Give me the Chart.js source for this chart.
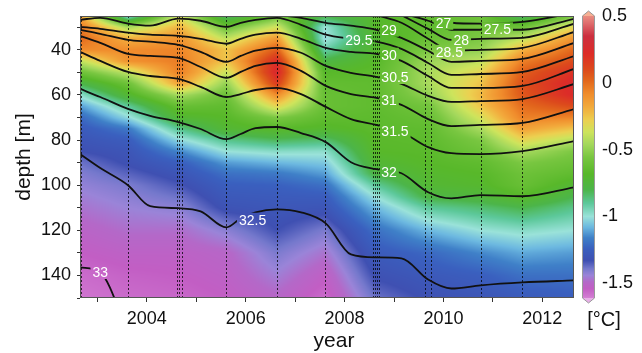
<!DOCTYPE html>
<html>
<head>
<meta charset="utf-8">
<script src="https://cdn.jsdelivr.net/npm/chart.js@4.4.1/dist/chart.umd.min.js"></script>
<style>
  html, body { margin: 0; padding: 0; background: #fff; }
</style>
</head>
<body>
<canvas id="chart" width="642" height="353"></canvas>
<script>
const FONT = '"Liberation Sans", Arial, Helvetica, sans-serif';

// temperature anomaly grid [°C]: one column per cast year, values by depth
const gridYears = [2002.65, 2003.62, 2004.67, 2005.61, 2006.63, 2007.60, 2008.63, 2009.69, 2010.75, 2011.59, 2012.65];
const gridDepths = [25, 30, 35, 40, 45, 50, 55, 60, 65, 70, 75, 80, 85, 90, 95, 100, 105, 110, 120, 130, 140, 150];
const t2002 = [-0.15, -0.02, 0.02, -0.08, -0.4, -0.6, -0.8, -0.98, -1.12, -1.22, -1.27, -1.3, -1.33, -1.38, -1.41, -1.43, -1.45, -1.47, -1.51, -1.54, -1.57, -1.59];
const t2003 = [-1.0, -0.45, -0.2, -0.08, -0.1, -0.4, -0.6, -0.72, -0.9, -1.02, -1.18, -1.26, -1.3, -1.32, -1.36, -1.4, -1.42, -1.44, -1.48, -1.52, -1.55, -1.57];
const t2004 = [-0.35, -0.2, -0.1, -0.06, -0.04, -0.04, -0.15, -0.45, -0.62, -0.72, -0.88, -1.02, -1.15, -1.25, -1.3, -1.34, -1.38, -1.42, -1.48, -1.52, -1.54, -1.56];
const t2005 = [-0.85, -0.6, -0.4, -0.25, -0.25, -0.38, -0.5, -0.6, -0.65, -0.68, -0.72, -0.88, -1.0, -1.12, -1.2, -1.25, -1.28, -1.31, -1.42, -1.5, -1.52, -1.54];
const t2006 = [-0.6, -0.35, -0.12, 0.05, 0.22, 0.26, 0.15, -0.08, -0.3, -0.55, -0.68, -0.82, -0.97, -1.08, -1.18, -1.24, -1.27, -1.29, -1.33, -1.4, -1.45, -1.5];
const t2007 = [-0.8, -1.0, -1.02, -0.92, -0.78, -0.68, -0.64, -0.62, -0.62, -0.65, -0.7, -0.85, -0.98, -1.05, -1.12, -1.2, -1.26, -1.3, -1.4, -1.47, -1.53, -1.57];
const t2008 = [-0.7, -0.68, -0.72, -0.7, -0.68, -0.66, -0.65, -0.65, -0.65, -0.66, -0.66, -0.67, -0.68, -0.72, -0.78, -0.9, -1.0, -1.08, -1.2, -1.27, -1.32, -1.38];
const t2009 = [-0.65, -0.65, -0.62, -0.55, -0.48, -0.45, -0.45, -0.5, -0.58, -0.62, -0.65, -0.66, -0.67, -0.68, -0.7, -0.72, -0.78, -0.9, -1.08, -1.22, -1.28, -1.32];
const t2010 = [-0.6, -0.58, -0.55, -0.5, -0.4, -0.3, -0.25, -0.22, -0.25, -0.35, -0.45, -0.55, -0.6, -0.65, -0.68, -0.7, -0.75, -0.85, -1.0, -1.15, -1.25, -1.3];
const t2011 = [-0.85, -0.6, -0.4, -0.2, -0.05, 0.04, 0.08, 0.06, 0.0, -0.05, -0.15, -0.3, -0.45, -0.55, -0.6, -0.62, -0.68, -0.8, -0.97, -1.1, -1.2, -1.27];
const t2012 = [-0.55, -0.3, -0.1, 0.02, 0.1, 0.2, 0.26, 0.24, 0.1, -0.06, -0.25, -0.42, -0.55, -0.6, -0.65, -0.72, -0.8, -0.88, -1.0, -1.12, -1.2, -1.25];
const tempCols = [t2002, t2003, t2004, t2005, t2006, t2007, t2008, t2009, t2010, t2011, t2012];

// cast dates (dashed verticals)
const castYears = [2002.68, 2003.62, 2004.62, 2004.66, 2004.72, 2005.61, 2006.63, 2007.60,
  2008.58, 2008.62, 2008.66, 2008.70, 2009.63, 2009.75, 2010.75, 2011.59, 2012.62];

// salinity contours: depth [m] of each isohaline at lineYears
const lineYears = [2002.65, 2003.06, 2003.62, 2004.07, 2004.64, 2005.09, 2005.61, 2005.9, 2006.2, 2006.63,
  2007.12, 2007.62, 2008.13, 2008.64, 2009.15, 2009.69, 2010.16, 2010.75, 2011.6, 2012.65];
const s33  = [136.4, 138.7, 165, null, null, null, null, null, null, null, null, null, null, null, null, null, null, null, null, null];
const s325 = [86.2, 92.4, 100, 109.3, 110.2, 111.6, 118.7, 114.7, 112, 110.7, 112, 116.9, 130.7, 132, 132.4, 141.8, 145.8, 144.4, 143.1, 142.2];
const s32  = [57.3, 60.9, 66.2, 69.3, 72, 75.1, 79.6, 77.3, 74.7, 74.2, 76.9, 80.9, 89.8, 92.9, 94.7, 103.1, 105.8, 104.4, 104.9, 100.9];
const s315 = [40.9, 44.9, 49.8, 51.6, 52.9, 56.4, 60.9, 59.6, 57.8, 56.9, 59.6, 65.3, 70.7, 73.3, 76.4, 83.1, 85.8, 86.2, 84.9, 80.4];
const s31  = [33.8, 36.9, 41.8, 42.7, 43.6, 47.6, 52.4, 49.8, 47.1, 45.8, 49.3, 56, 59.6, 61.3, 64.4, 70.7, 73.8, 73.3, 72.4, 66.2];
const s305 = [31.1, 32.9, 35.6, 36.4, 37.8, 40.9, 45.3, 42.7, 40.4, 39.1, 41.3, 47.1, 50.2, 52, 55.1, 60.4, 63.1, 62.7, 61.8, 55.1];
const s30  = [29.8, 30.7, 32.4, 33.3, 33.8, 35.1, 37.3, 35.1, 33.3, 32.4, 35.1, 39.1, 40.9, 41.8, 44.9, 51.6, 56.9, 56.9, 56, 48.4];
const s295 = [26.7, 25.8, 28.4, 29.3, 26.2, 27.1, 29.8, 28, 26.7, 25.8, 28.9, 33.3, 35.1, 36.4, 39.6, 45.8, 51.1, 50.7, 49.8, 42.7];
const s29  = [null, null, null, null, null, null, null, null, null, 24.6, 25.8, 28, 29.3, 31.1, 34.7, 40.4, 45.3, 44.9, 44, 36.9];
const s285 = [null, null, null, null, null, null, null, null, null, null, null, null, null, 24.6, 28, 35.1, 40.4, 40, 39.1, 32];
const s28  = [null, null, null, null, null, null, null, null, null, null, null, null, null, null, 24.6, 30.7, 35.6, 35.1, 34.7, 28.4];
const s275 = [null, null, null, null, null, null, null, null, null, null, null, null, null, null, 23.8, 27.1, 31.1, 31.1, 31.1, 26.2];
const s27  = [null, null, null, null, null, null, null, null, null, null, null, null, null, null, null, 24.4, 28, 28.4, 27.6, 23.6];
const isohalines = [s27, s275, s28, s285, s29, s295, s30, s305, s31, s315, s32, s325, s33];

// contour labels
const labelText  = ['27', '27.5', '28', '28.5', '29', '29.5', '30', '30.5', '31', '31.5', '32', '32.5', '33'];
const labelYear  = [2010.0, 2011.09, 2010.36, 2010.12, 2008.9, 2008.29, 2008.9, 2009.02, 2008.9, 2009.02, 2008.9, 2006.14, 2003.06];
const labelDepth = [28, 30.9, 35.6, 40.9, 31.1, 35.8, 42.2, 52, 62.2, 76, 94, 115.3, 138.5];

// colour scale
const cbMin = -1.61, cbMax = 0.5;
const cmapVals = [-1.66, -1.6, -1.54, -1.49, -1.44, -1.39, -1.33, -1.24, -1.16, -1.08, -1.0, -0.9, -0.8, -0.68,
  -0.56, -0.46, -0.37, -0.28, -0.18, -0.08, 0.02, 0.1, 0.22, 0.35, 0.45, 0.56];
const cmapCols = ['#e8b0e8', '#d27ad2', '#c25ec4', '#b468c8', '#9a84d8', '#7478cc', '#3f50b2', '#3a60bf', '#3f80c8',
  '#6cb8e0', '#9ae2d9', '#5cc89a', '#4cb54a', '#58b82a', '#78c640', '#a4d85c', '#cde45c', '#ecd050', '#f2aa3c',
  '#f08c2c', '#e2661c', '#dc4a1c', '#dc2c28', '#cc3040', '#e07070', '#f7b094'];

function hexRgb(h) {
  return [parseInt(h.slice(1, 3), 16), parseInt(h.slice(3, 5), 16), parseInt(h.slice(5, 7), 16)];
}
const cmapRgb = cmapCols.map(hexRgb);

function colorFor(v) {
  if (v <= cmapVals[0]) return cmapRgb[0];
  const n = cmapVals.length;
  if (v >= cmapVals[n - 1]) return cmapRgb[n - 1];
  let i = 0;
  while (v > cmapVals[i + 1]) i++;
  const t = (v - cmapVals[i]) / (cmapVals[i + 1] - cmapVals[i]);
  const a = cmapRgb[i], b = cmapRgb[i + 1];
  return [a[0] + (b[0] - a[0]) * t, a[1] + (b[1] - a[1]) * t, a[2] + (b[2] - a[2]) * t];
}

function locate(arr, v) {
  let i = 0;
  while (i < arr.length - 2 && v > arr[i + 1]) i++;
  const t = (v - arr[i]) / (arr[i + 1] - arr[i]);
  return [i, Math.max(0, Math.min(1, t))];
}

function sampleTemp(year, depth) {
  const [i, tx] = locate(gridYears, year);
  const [j, ty] = locate(gridDepths, depth);
  const a = tempCols[i], b = tempCols[i + 1];
  const top = a[j] + (b[j] - a[j]) * tx;
  const bot = a[j + 1] + (b[j + 1] - a[j + 1]) * tx;
  return top + (bot - top) * ty;
}

const heatmap = {
  id: 'heatmap',
  beforeDatasetsDraw(chart) {
    const { ctx, chartArea: a, scales: { x, y } } = chart;
    const w = Math.round(a.right - a.left), h = Math.round(a.bottom - a.top);
    if (!this.img || this.w !== w || this.h !== h) {
      const off = document.createElement('canvas');
      off.width = w; off.height = h;
      const octx = off.getContext('2d');
      const im = octx.createImageData(w, h);
      for (let j = 0; j < h; j++) {
        const d = y.getValueForPixel(a.top + j + 0.5);
        for (let i = 0; i < w; i++) {
          const yr = x.getValueForPixel(a.left + i + 0.5);
          const c = colorFor(sampleTemp(yr, d));
          const k = (j * w + i) * 4;
          im.data[k] = c[0]; im.data[k + 1] = c[1]; im.data[k + 2] = c[2]; im.data[k + 3] = 255;
        }
      }
      octx.putImageData(im, 0, 0);
      this.img = off; this.w = w; this.h = h;
    }
    ctx.drawImage(this.img, a.left, a.top);

    // cast lines
    ctx.save();
    ctx.strokeStyle = 'rgba(0,0,0,0.75)';
    ctx.lineWidth = 1;
    ctx.setLineDash([2, 2]);
    castYears.forEach(cy => {
      const px = Math.round(x.getPixelForValue(cy)) + 0.5;
      ctx.beginPath();
      ctx.moveTo(px, a.top);
      ctx.lineTo(px, a.bottom);
      ctx.stroke();
    });
    ctx.restore();

    // leave gaps in the contours where labels sit
    ctx.save();
    ctx.font = '14px ' + FONT;
    ctx.beginPath();
    ctx.rect(a.left, a.top, a.right - a.left, a.bottom - a.top);
    labelText.forEach((t, k) => {
      const px = x.getPixelForValue(labelYear[k]);
      const py = y.getPixelForValue(labelDepth[k]);
      const tw = ctx.measureText(t).width + 4;
      ctx.rect(px - tw / 2, py - 7, tw, 14);
    });
    ctx.clip('evenodd');
  },
  afterDatasetsDraw(chart) {
    const { ctx, chartArea: a, scales: { x, y } } = chart;
    ctx.restore();

    ctx.save();
    ctx.fillStyle = '#ffffff';
    ctx.font = '14px ' + FONT;
    ctx.textAlign = 'center';
    ctx.textBaseline = 'middle';
    labelText.forEach((t, k) => {
      ctx.fillText(t, x.getPixelForValue(labelYear[k]), y.getPixelForValue(labelDepth[k]) + 1);
    });
    ctx.strokeStyle = '#555';
    ctx.lineWidth = 1;
    ctx.strokeRect(a.left + 0.5, a.top + 0.5, a.right - a.left - 1, a.bottom - a.top - 1);
    ctx.restore();
  },
  afterDraw(chart) {
    const { ctx, chartArea: a, scales: { cb } } = chart;
    const x0 = a.right + 8, bw = 13;
    const top = Math.round(cb.getPixelForValue(cbMax));
    const bot = Math.round(cb.getPixelForValue(cbMin));
    ctx.save();
    for (let py = top; py < bot; py++) {
      const c = colorFor(cb.getValueForPixel(py + 0.5));
      ctx.fillStyle = `rgb(${c[0] | 0},${c[1] | 0},${c[2] | 0})`;
      ctx.fillRect(x0, py, bw, 1);
    }
    const cTop = colorFor(0.56), cBot = colorFor(-1.66);
    ctx.fillStyle = `rgb(${cTop[0] | 0},${cTop[1] | 0},${cTop[2] | 0})`;
    ctx.beginPath(); ctx.moveTo(x0, top); ctx.lineTo(x0 + bw / 2, top - 5); ctx.lineTo(x0 + bw, top); ctx.closePath(); ctx.fill();
    ctx.fillStyle = `rgb(${cBot[0] | 0},${cBot[1] | 0},${cBot[2] | 0})`;
    ctx.beginPath(); ctx.moveTo(x0, bot); ctx.lineTo(x0 + bw / 2, bot + 5); ctx.lineTo(x0 + bw, bot); ctx.closePath(); ctx.fill();
    ctx.strokeStyle = '#9a9a9a';
    ctx.lineWidth = 1;
    ctx.beginPath();
    ctx.moveTo(x0 + 0.5, top); ctx.lineTo(x0 + bw / 2, top - 5); ctx.lineTo(x0 + bw - 0.5, top);
    ctx.lineTo(x0 + bw - 0.5, bot); ctx.lineTo(x0 + bw / 2, bot + 5); ctx.lineTo(x0 + 0.5, bot); ctx.closePath();
    ctx.stroke();

    ctx.fillStyle = '#111';
    ctx.textAlign = 'center';
    ctx.textBaseline = 'middle';
    ctx.font = '21px ' + FONT;
    ctx.fillText('year', (a.left + a.right) / 2 + 7, 341);
    ctx.font = '20px ' + FONT;
    ctx.fillText('[°C]', a.right + 30, 320);
    ctx.restore();
  }
};

const datasets = isohalines.map(arr => ({
  data: lineYears.map((yr, i) => ({ x: yr, y: arr[i] })).filter(p => p.y !== null),
  borderColor: '#111',
  borderWidth: 1.8,
  pointRadius: 0,
  fill: false,
  cubicInterpolationMode: 'monotone',
  xAxisID: 'x',
  yAxisID: 'y'
}));

const tickFont = { family: FONT, size: 18 };

function noPad(s) {
  s.paddingTop = 0; s.paddingBottom = 0; s.paddingLeft = 0; s.paddingRight = 0;
}

new Chart(document.getElementById('chart'), {
  type: 'line',
  data: { datasets: datasets },
  plugins: [heatmap],
  options: {
    responsive: false,
    animation: false,
    devicePixelRatio: 1,
    layout: { padding: { top: 16, left: 0, right: 0, bottom: 0 } },
    plugins: { legend: { display: false }, tooltip: { enabled: false } },
    scales: {
      x: {
        type: 'linear', position: 'bottom', min: 2002.65, max: 2012.64,
        afterFit(s) { s.height = 55; noPad(s); },
        border: { display: false },
        grid: { drawOnChartArea: false, drawTicks: true, tickLength: 4, color: '#333' },
        ticks: {
          stepSize: 1, includeBounds: false, autoSkip: false, maxRotation: 0, padding: 6,
          color: '#111', font: tickFont,
          callback: v => (Math.round(v) % 2 === 0 ? String(Math.round(v)) : '')
        }
      },
      y: {
        type: 'linear', position: 'left', reverse: true, min: 25, max: 150,
        afterFit(s) { s.width = 80; noPad(s); },
        border: { display: false },
        grid: { drawOnChartArea: false, drawTicks: true, tickLength: 3, color: '#333' },
        ticks: {
          stepSize: 10, includeBounds: false, autoSkip: false, padding: 6,
          color: '#111', font: tickFont,
          callback: v => (v % 20 === 0 ? String(v) : '')
        },
        title: { display: true, text: 'depth [m]', color: '#111', font: { family: FONT, size: 21 }, padding: { top: 12, bottom: 0 } }
      },
      cb: {
        type: 'linear', position: 'right', min: cbMin, max: cbMax,
        afterFit(s) { s.width = 68; noPad(s); },
        border: { display: false },
        grid: { display: false, drawTicks: false },
        ticks: {
          stepSize: 0.5, includeBounds: false, autoSkip: false, padding: 28,
          color: '#111', font: tickFont,
          callback: v => String(+(+v).toFixed(1))
        }
      }
    }
  }
});
</script>
</body>
</html>
